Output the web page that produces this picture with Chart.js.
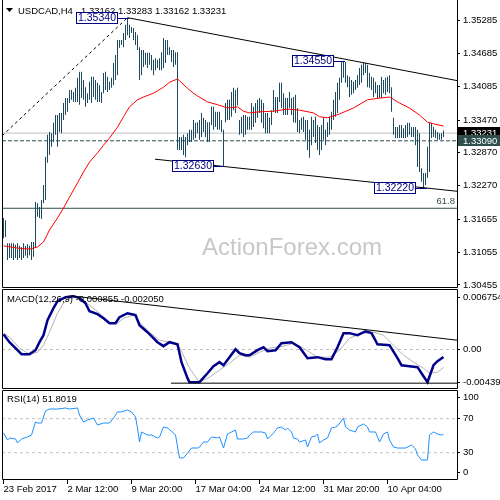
<!DOCTYPE html>
<html lang="en">
<head>
    <meta charset="UTF-8">
    <title>USDCAD H4</title>
    <script src="https://cdn.jsdelivr.net/npm/chart.js"></script>
    <style>
        html, body { margin: 0; padding: 0; background: #fff; }
        #wrap { position: relative; width: 500px; height: 500px; overflow: hidden; }
        canvas { position: absolute; left: 0; }
    </style>
</head>
<body>
<div id="wrap">
    <canvas id="price" width="500" height="288" style="top:0px"></canvas>
    <canvas id="macd" width="500" height="100" style="top:289px"></canvas>
    <canvas id="rsi" width="500" height="111" style="top:389px"></canvas>
</div>
<script>
    // H4 bars, one entry per bar (high / low)
    var highs = [1.3168,1.3164,1.3122,1.3122,1.3122,1.3122,1.3119,1.3122,1.3117,1.3115,
        1.3122,1.3117,1.3120,1.3117,1.3124,1.3124,1.3197,1.3195,1.3188,1.3201,
        1.3228,1.3280,1.3320,1.3325,1.3323,1.3342,1.3356,1.3356,1.3360,1.3360,
        1.3378,1.3387,1.3387,1.3402,1.3402,1.3398,1.3406,1.3424,1.3435,1.3435,
        1.3420,1.3407,1.3396,1.3417,1.3426,1.3426,1.3420,1.3415,1.3411,1.3398,
        1.3433,1.3435,1.3426,1.3417,1.3424,1.3451,1.3466,1.3493,1.3493,1.3493,
        1.3506,1.3521,1.3534,1.3521,1.3517,1.3515,1.3508,1.3502,1.3480,1.3475,
        1.3475,1.3470,1.3470,1.3470,1.3466,1.3457,1.3460,1.3457,1.3460,1.3471,
        1.3497,1.3493,1.3493,1.3480,1.3475,1.3475,1.3471,1.3471,1.3316,1.3316,
        1.3320,1.3316,1.3323,1.3329,1.3329,1.3347,1.3342,1.3343,1.3347,1.3360,
        1.3351,1.3347,1.3343,1.3343,1.3371,1.3371,1.3362,1.3362,1.3362,1.3347,
        1.3329,1.3378,1.3384,1.3384,1.3398,1.3406,1.3402,1.3406,1.3347,1.3353,
        1.3356,1.3356,1.3353,1.3353,1.3378,1.3371,1.3378,1.3384,1.3387,1.3384,
        1.3378,1.3360,1.3360,1.3351,1.3365,1.3402,1.3389,1.3389,1.3415,1.3415,
        1.3396,1.3387,1.3387,1.3398,1.3387,1.3389,1.3393,1.3369,1.3347,1.3351,
        1.3353,1.3347,1.3347,1.3329,1.3353,1.3347,1.3353,1.3338,1.3334,1.3338,
        1.3351,1.3329,1.3343,1.3353,1.3362,1.3384,1.3398,1.3415,1.3424,1.3453,
        1.3455,1.3453,1.3429,1.3426,1.3420,1.3417,1.3420,1.3429,1.3442,1.3448,
        1.3451,1.3451,1.3448,1.3433,1.3426,1.3424,1.3417,1.3411,1.3411,1.3426,
        1.3420,1.3424,1.3426,1.3429,1.3407,1.3351,1.3334,1.3334,1.3338,1.3338,
        1.3332,1.3338,1.3342,1.3342,1.3334,1.3334,1.3334,1.3329,1.3323,1.3259,
        1.3250,1.3250,1.3298,1.3342,1.3342,1.3334,1.3329,1.3325,1.3323,1.3323,
        1.3328];
    var lows = [1.3131,1.3133,1.3091,1.3095,1.3095,1.3091,1.3095,1.3091,1.3095,1.3091,
        1.3095,1.3099,1.3095,1.3100,1.3091,1.3097,1.3115,1.3170,1.3168,1.3166,
        1.3195,1.3201,1.3269,1.3283,1.3298,1.3307,1.3320,1.3298,1.3325,1.3323,
        1.3347,1.3356,1.3362,1.3378,1.3384,1.3380,1.3380,1.3380,1.3375,1.3387,
        1.3384,1.3371,1.3378,1.3384,1.3378,1.3389,1.3384,1.3380,1.3380,1.3378,
        1.3396,1.3402,1.3398,1.3402,1.3406,1.3411,1.3420,1.3429,1.3479,1.3484,
        1.3480,1.3493,1.3502,1.3497,1.3506,1.3493,1.3484,1.3475,1.3420,1.3429,
        1.3444,1.3448,1.3442,1.3448,1.3438,1.3429,1.3438,1.3442,1.3438,1.3438,
        1.3442,1.3451,1.3466,1.3466,1.3453,1.3444,1.3448,1.3292,1.3292,1.3292,
        1.3283,1.3279,1.3301,1.3307,1.3307,1.3311,1.3314,1.3323,1.3311,1.3316,
        1.3325,1.3316,1.3307,1.3307,1.3338,1.3329,1.3334,1.3329,1.3329,1.3325,
        1.3263,1.3343,1.3347,1.3347,1.3353,1.3365,1.3360,1.3374,1.3320,1.3323,
        1.3316,1.3320,1.3329,1.3329,1.3329,1.3334,1.3342,1.3351,1.3360,1.3342,
        1.3332,1.3323,1.3323,1.3323,1.3338,1.3362,1.3360,1.3360,1.3380,1.3369,
        1.3356,1.3356,1.3356,1.3369,1.3356,1.3343,1.3342,1.3325,1.3323,1.3329,
        1.3325,1.3311,1.3292,1.3278,1.3301,1.3316,1.3305,1.3292,1.3283,1.3292,
        1.3311,1.3301,1.3316,1.3320,1.3329,1.3347,1.3353,1.3360,1.3384,1.3415,
        1.3424,1.3415,1.3407,1.3389,1.3393,1.3396,1.3402,1.3406,1.3411,1.3415,
        1.3429,1.3433,1.3407,1.3406,1.3402,1.3389,1.3396,1.3387,1.3387,1.3387,
        1.3396,1.3393,1.3398,1.3396,1.3362,1.3320,1.3314,1.3314,1.3314,1.3314,
        1.3314,1.3314,1.3316,1.3320,1.3316,1.3316,1.3301,1.3261,1.3252,1.3234,
        1.3222,1.3228,1.3241,1.3252,1.3314,1.3316,1.3314,1.3311,1.3311,1.3311,
        1.3316];

    // red moving average, read at these bars
    var maBar = [0,7,13,17,20,23,27,30,33,37,40,43,47,50,53,57,60,63,67,70,75,80,83,87,92,95,97,102,107,112,117,120,123,128,135,142,148,155,158,162,168,175,182,188,193,198,203,208,212,215,220];
    var maVal = [1.3117,1.3113,1.3111,1.3115,1.3124,1.3146,1.3168,1.3186,1.3206,1.3232,1.3252,1.3270,1.3287,1.3301,1.3314,1.3334,1.3353,1.3371,1.3384,1.3389,1.3396,1.3407,1.3416,1.3422,1.3405,1.3396,1.3391,1.3380,1.3375,1.3369,1.3371,1.3363,1.3360,1.3362,1.3363,1.3367,1.3365,1.3360,1.3353,1.3351,1.3358,1.3369,1.3384,1.3387,1.3389,1.3378,1.3369,1.3356,1.3343,1.3340,1.3336];

    // MACD main and signal
    var macdBar = [0,3,7,9,13,16,18,20,22,25,27,31,35,38,41,43,47,50,53,56,58,62,66,68,72,77,80,83,87,89,92,93,98,102,105,108,110,113,116,118,121,123,127,130,132,136,139,144,148,152,157,161,164,167,170,173,177,181,184,187,193,197,199,203,207,209,212,215,217,220];
    var macdVal = [0.00174,0.00083,-0.00008,-0.00053,-0.00053,-0.00008,0.00083,0.00163,0.00334,0.00470,0.00550,0.00595,0.00607,0.00584,0.00527,0.00436,0.00402,0.00356,0.00299,0.00299,0.00368,0.00413,0.00391,0.00277,0.00197,0.00083,0.00038,0.00083,0.00060,-0.00144,-0.00326,-0.00372,-0.00372,-0.00270,-0.00190,-0.00144,-0.00179,-0.00087,0.00003,-0.00042,-0.00065,-0.00065,-0.00008,0.00026,-0.00019,-0.00008,0.00072,0.00083,0.00026,-0.00099,-0.00087,-0.00110,-0.00110,0.00026,0.00186,0.00186,0.00163,0.00208,0.00186,0.00060,0.00049,-0.00099,-0.00179,-0.00190,-0.00201,-0.00270,-0.00372,-0.00179,-0.00133,-0.000855];
    var sigBar = [0,3,8,13,17,20,23,27,30,33,38,43,48,53,57,60,65,68,73,78,85,88,93,98,103,108,113,118,123,128,133,140,145,150,157,163,168,173,178,185,190,195,200,205,210,213,217,220];
    var sigVal = [0.00186,0.00140,0.00015,-0.00053,-0.00031,0.00049,0.00197,0.00413,0.00527,0.00584,0.00595,0.00504,0.00413,0.00311,0.00299,0.00356,0.00391,0.00311,0.00197,0.00106,0.00072,0.00026,-0.00213,-0.00372,-0.00315,-0.00235,-0.00156,-0.00065,-0.00087,-0.00031,0.00015,0.00038,0.00072,0.00015,-0.00087,-0.00087,-0.00008,0.00129,0.00174,0.00197,0.00163,0.00049,-0.00065,-0.00144,-0.00213,-0.00270,-0.00258,-0.00205];

    // RSI(14)
    var rsiBar = [0,2,3,6,7,9,12,14,16,17,19,21,23,27,31,33,37,38,40,42,45,47,50,53,55,57,59,62,64,66,67,68,69,72,74,77,78,80,82,85,86,88,90,92,94,97,98,100,102,104,107,108,110,112,114,116,117,120,122,123,125,127,129,131,132,135,137,139,141,142,144,145,147,148,151,152,154,156,157,158,160,162,164,166,167,170,171,173,176,177,180,182,183,186,187,188,190,192,193,195,197,201,204,206,207,209,212,213,215,217,219,220];
    var rsiVal = [53.2,44.9,47.3,46.1,41.4,46.1,48.5,50.8,66.1,64.9,64.9,79.1,81.4,81.4,82.6,81.4,82.6,74.4,66.1,68.5,70.8,62.6,64.9,64.9,70.8,77.9,77.9,80.2,77.9,72.0,59.1,42.6,54.4,50.8,50.8,47.3,48.5,60.2,59.1,53.2,50.8,23.8,23.8,29.6,35.5,35.5,36.7,42.6,42.6,48.5,47.3,48.5,35.5,52.0,54.4,56.7,46.1,46.1,47.3,50.8,54.4,54.4,54.4,53.2,46.1,53.2,59.1,60.2,56.7,59.1,54.4,47.3,46.1,42.6,44.9,36.7,48.5,49.6,52.0,41.4,44.9,47.3,59.1,60.2,61.4,70.8,60.2,56.7,54.4,60.2,63.8,60.2,54.4,54.4,48.5,42.6,52.0,54.4,44.9,36.7,35.5,35.5,39.1,34.4,27.3,21.4,21.4,50.8,54.4,52.0,50.8,51.8];

    // axis ticks
    var dateTicks = [0, 32, 64, 96, 128, 160, 192];
    var dateLabels = ['23 Feb 2017', '2 Mar 12:00', '9 Mar 20:00', '17 Mar 04:00', '24 Mar 12:00', '31 Mar 20:00', '10 Apr 04:00'];
    var priceTicks = [1.35285, 1.34685, 1.34085, 1.33470, 1.32870, 1.32270, 1.31655, 1.31055, 1.30455];
    var macdTicks = [0.00595, 0, -0.00372];
    var macdTickText = ['0.006754', '0.00', '-0.004399'];
    var rsiTicks = [94.7, 70, 30, 6.5];
    var rsiTickText = ['100', '70', '30', '0'];

    // levels, trend lines and swing labels
    var lastBar = [1.33162, 1.33283, 1.33162, 1.33231];
    var lastClose = 1.33231, bidLine = 1.33090, fib618 = 1.31857;
    var fibDiag = [[-0.75, 1.3318], [62, 1.3534]];
    var upperTrend = [[62, 1.3534], [226.75, 1.3419]];
    var lowerTrend = [[75.75, 1.32754], [226.75, 1.32168]];
    var macdUpper = [[34, 0.0061], [226.75, 0.00106]];
    var macdLower = [[83.75, -0.00383], [226.75, -0.00383]];
    var swingNotes = [[62, 1.3534, '1.35340'], [170, 1.3455, '1.34550'], [110, 1.3263, '1.32630'], [211, 1.3222, '1.32220']];

    var FONT = "'Liberation Sans', Arial, sans-serif";
    var X_MIN = -0.75, X_MAX = 226.75;
    Chart.defaults.font.family = FONT;
    Chart.defaults.font.size = 9.5;
    Chart.defaults.color = '#000';

    function pts(xs, ys) { return xs.map(function (x, k) { return { x: x, y: ys[k] }; }); }
    function seg(a) { return a.map(function (p) { return { x: p[0], y: p[1] }; }); }
    function level(v) { return [{ x: X_MIN, y: v }, { x: X_MAX, y: v }]; }

    function line(data, color, width, dash, order) {
        return { type: 'line', data: data, borderColor: color, borderWidth: width, borderDash: dash || [],
                 pointRadius: 0, fill: false, tension: 0, order: order || 0 };
    }

    function hiddenX() {
        return { type: 'linear', display: false, min: X_MIN, max: X_MAX, offset: false };
    }

    function rightY(min, max, tickVals, fmt) {
        return {
            position: 'right', min: min, max: max,
            afterBuildTicks: function (s) { s.ticks = tickVals.map(function (v) { return { value: v }; }); },
            afterFit: function (s) { s.width = 43; s.paddingTop = 0; s.paddingBottom = 0; },
            ticks: { autoSkip: false, padding: 3, color: '#000', callback: fmt },
            grid: { drawOnChartArea: false, tickLength: 3, color: '#000' },
            border: { display: false }
        };
    }

    function baseOptions(padTop) {
        return {
            responsive: false, animation: false, devicePixelRatio: 1, events: [],
            layout: { padding: { left: 2, right: 0, top: padTop, bottom: 0 } },
            plugins: { legend: { display: false }, tooltip: { enabled: false } }
        };
    }

    // black frame round each panel
    function frame(withTop) {
        return {
            id: 'frame',
            afterDraw: function (chart) {
                var ctx = chart.ctx, a = chart.chartArea;
                var l = a.left + 0.5, r = a.right + 0.5, t = a.top + 0.5, b = a.bottom - 0.5;
                ctx.save();
                ctx.strokeStyle = '#000';
                ctx.lineWidth = 1;
                ctx.beginPath();
                ctx.moveTo(l, withTop ? t : a.top);
                ctx.lineTo(l, b);
                ctx.lineTo(r, b);
                ctx.lineTo(r, withTop ? t : a.top);
                if (withTop) ctx.lineTo(l, t);
                ctx.stroke();
                ctx.restore();
            }
        };
    }

    function caption(text) {
        return {
            id: 'caption',
            afterDraw: function (chart) {
                var ctx = chart.ctx;
                ctx.save();
                ctx.font = '9.5px ' + FONT;
                ctx.fillStyle = '#000';
                ctx.textAlign = 'left';
                ctx.textBaseline = 'alphabetic';
                ctx.fillText(text, 7, 13);
                ctx.restore();
            }
        };
    }

    var priceOverlay = {
        id: 'priceOverlay',
        beforeDatasetsDraw: function (chart) {
            var ctx = chart.ctx;
            ctx.save();
            ctx.font = '24px ' + FONT;
            ctx.fillStyle = '#c8c8c8';
            ctx.textAlign = 'left';
            ctx.textBaseline = 'alphabetic';
            ctx.fillText('ActionForex.com', 202, 255);
            ctx.restore();
        },
        afterDatasetsDraw: function (chart) {
            var ctx = chart.ctx, xs = chart.scales.x, ys = chart.scales.y;
            ctx.save();
            ctx.font = '9.5px ' + FONT;
            ctx.fillStyle = '#000';
            ctx.textAlign = 'left';
            ctx.textBaseline = 'alphabetic';
            ctx.beginPath();
            ctx.moveTo(6, 8); ctx.lineTo(13, 8); ctx.lineTo(9.5, 12); ctx.closePath();
            ctx.fill();
            ctx.fillText('USDCAD,H4', 18, 14);
            ctx.fillText(lastBar.map(function (v) { return v.toFixed(5); }).join(' '), 81, 14);

            ctx.font = '10.5px ' + FONT;
            ctx.textAlign = 'center';
            ctx.textBaseline = 'middle';
            ctx.lineWidth = 1;
            swingNotes.forEach(function (n) {
                var px = Math.round(xs.getPixelForValue(n[0]));
                var py = Math.round(ys.getPixelForValue(n[1]));
                var r = px - 10, l = r - 42;
                ctx.strokeStyle = '#000080';
                ctx.beginPath();
                ctx.moveTo(r, py + 0.5);
                ctx.lineTo(px + 1, py + 0.5);
                ctx.stroke();
                ctx.fillStyle = '#fff';
                ctx.fillRect(l, py - 6, 42, 12);
                ctx.strokeRect(l + 0.5, py - 5.5, 41, 11);
                ctx.fillStyle = '#000080';
                ctx.fillText(n[2], l + 21, py + 0.5);
            });
            ctx.font = '9.5px ' + FONT;
            ctx.textAlign = 'right';
            ctx.fillStyle = '#2f4f4f';
            ctx.fillText('61.8', 455, ys.getPixelForValue(fib618) - 7);
            ctx.restore();
        },
        afterDraw: function (chart) {
            var ctx = chart.ctx, ys = chart.scales.y;
            ctx.save();
            ctx.font = '9.5px ' + FONT;
            ctx.textAlign = 'left';
            ctx.textBaseline = 'middle';
            // price tags on the axis
            [[lastClose, '#000000'], [bidLine, '#2f4f4f']].forEach(function (t) {
                var py = Math.round(ys.getPixelForValue(t[0]));
                ctx.fillStyle = t[1];
                ctx.fillRect(458, py - 6, 42, 11);
                ctx.fillStyle = '#fff';
                ctx.fillText(t[0].toFixed(5), 463, py);
            });
            ctx.restore();
        }
    };

    // price panel
    var priceOpts = baseOptions(0);
    priceOpts.scales = {
        x: hiddenX(),
        y: rightY(1.3040, 1.35663, priceTicks, function (v) { return v.toFixed(5); })
    };
    new Chart(document.getElementById('price'), {
        type: 'bar',
        data: {
            datasets: [
                line(level(lastClose), '#c0c0c0', 1, [], 10),
                line(level(bidLine), '#2f4f4f', 1, [4, 2], 9),
                line(level(fib618), '#2f4f4f', 1, [], 9),
                line(seg(fibDiag), '#000', 1, [3, 3], 8),
                {
                    type: 'bar',
                    data: highs.map(function (h, i) { return { x: i, y: [lows[i], h] }; }),
                    backgroundColor: '#1e4a5f',
                    borderWidth: 0,
                    inflateAmount: 0,
                    barThickness: 1,
                    grouped: false,
                    order: 5
                },
                line(pts(maBar, maVal), '#ff0000', 1, [], 3),
                line(seg(upperTrend), '#000', 1, [], 2),
                line(seg(lowerTrend), '#000', 1, [], 2)
            ]
        },
        options: priceOpts,
        plugins: [frame(false), priceOverlay]
    });

    // MACD panel
    var macdOpts = baseOptions(0);
    macdOpts.scales = {
        x: hiddenX(),
        y: rightY(-0.004495, 0.006885, macdTicks, function (v, i) { return macdTickText[i]; })
    };
    new Chart(document.getElementById('macd'), {
        type: 'line',
        data: {
            datasets: [
                line(level(0), '#c0c0c0', 1, [3, 3], 5),
                line(pts(sigBar, sigVal), '#b4b4b4', 1, [], 4),
                line(pts(macdBar, macdVal), '#00008b', 2.5, [], 3),
                line(seg(macdUpper), '#000', 1, [], 2),
                line(seg(macdLower), '#000', 1, [], 2)
            ]
        },
        options: macdOpts,
        plugins: [frame(true), caption('MACD(12,26,9) -0.000855 -0.002050')]
    });

    // RSI panel with the date axis
    var rsiOpts = baseOptions(1);
    rsiOpts.scales = {
        x: {
            type: 'linear', min: X_MIN, max: X_MAX, offset: false, position: 'bottom',
            afterBuildTicks: function (s) { s.ticks = dateTicks.map(function (v) { return { value: v }; }); },
            afterFit: function (s) { s.height = 20; s.paddingLeft = 0; s.paddingRight = 0; },
            ticks: { autoSkip: false, maxRotation: 0, minRotation: 0, align: 'start', padding: 0, color: '#000',
                     callback: function (v, i) { return dateLabels[i]; } },
            grid: { drawOnChartArea: false, tickLength: 4, color: '#000' },
            border: { display: false }
        },
        y: rightY(-2.12, 103.76, rsiTicks, function (v, i) { return rsiTickText[i]; })
    };
    new Chart(document.getElementById('rsi'), {
        type: 'line',
        data: {
            datasets: [
                line(level(70), '#c0c0c0', 1, [3, 3], 5),
                line(level(30), '#c0c0c0', 1, [3, 3], 5),
                line(pts(rsiBar, rsiVal), '#1e90ff', 1, [], 2)
            ]
        },
        options: rsiOpts,
        plugins: [frame(true), caption('RSI(14) 51.8019')]
    });
</script>
</body>
</html>
